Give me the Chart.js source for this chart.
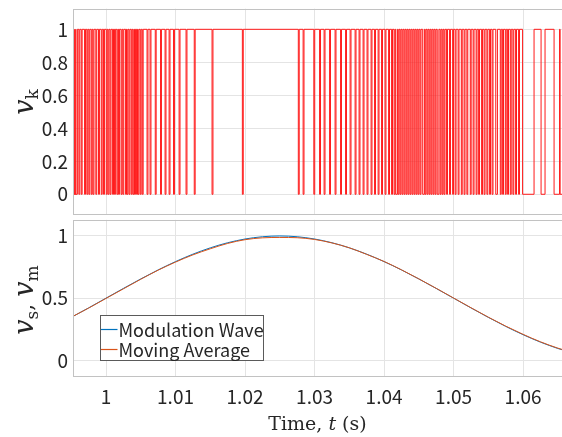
<!DOCTYPE html>
<html><head><meta charset="utf-8">
<script src="https://cdn.jsdelivr.net/npm/chart.js@4.4.0/dist/chart.umd.min.js"></script>
<style>
html,body{margin:0;padding:0;background:#fff;}
#wrap{position:relative;width:562px;height:437px;overflow:hidden;background:#fff;}
canvas{position:absolute;left:0;top:0;}
</style></head><body>
<div id="wrap"><canvas id="c1" width="562" height="437"></canvas><canvas id="c2" width="562" height="437"></canvas></div>
<script>
// ---------- DATA ----------
const xTickValues = [1.00, 1.01, 1.02, 1.03, 1.04, 1.05, 1.06];
const xTickLabels = ['1', '1.01', '1.02', '1.03', '1.04', '1.05', '1.06'];
const vkTickValues = [0, 0.2, 0.4, 0.6, 0.8, 1];
const vkTickLabels = ['0', '0.2', '0.4', '0.6', '0.8', '1'];
const vsTickValues = [0, 0.5, 1];
const vsTickLabels = ['0', '0.5', '1'];
const timeRange = [0.99525, 1.0656];
const vkRange = [-0.125, 1.125];
const vsRange = [-0.13, 1.13];

// switching signal v_k: level 1 with short dips to 0 (centres, s)
const vkDipCenters = [
  0.99532, 0.99554, 0.99576, 0.99616, 0.99650, 0.99698, 0.99731, 0.99760, 0.99794, 0.99820,
  0.99860, 0.99899, 0.99938, 0.99971, 1.00010, 1.00036, 1.00065, 1.00101, 1.00129, 1.00163,
  1.00187, 1.00223, 1.00249, 1.00288, 1.00309, 1.00338, 1.00370, 1.00396, 1.00417, 1.00446,
  1.00468, 1.00499, 1.00528,
  1.00597, 1.00640, 1.00715, 1.00791, 1.00856, 1.00914, 1.00978, 1.01058, 1.01158, 1.01276,
  1.01532, 1.01968,
  1.02773, 1.02842, 1.02996, 1.03079, 1.03144, 1.03223, 1.03302, 1.03381, 1.03453, 1.03518,
  1.03590, 1.03647, 1.03705, 1.03762, 1.03820, 1.03870, 1.03921, 1.03971, 1.04021, 1.04072,
  1.04115, 1.04151, 1.04180, 1.04209, 1.04237, 1.04266, 1.04295, 1.04324, 1.04352, 1.04381,
  1.04410, 1.04439, 1.04468, 1.04496, 1.04525, 1.04568, 1.04597, 1.04626, 1.04655, 1.04683,
  1.04712, 1.04741, 1.04777, 1.04813, 1.04842, 1.04870, 1.04906, 1.04949, 1.04993, 1.05029,
  1.05072, 1.05118, 1.05158, 1.05198, 1.05247, 1.05288, 1.05331, 1.05367, 1.05410, 1.05446,
  1.05486, 1.05525, 1.05561, 1.05619, 1.05679, 1.05712, 1.05751, 1.05784, 1.05823, 1.05860,
  1.05899, 1.05942
];
const vkWideDips = [0.99532, 0.99554, 0.99576, 1.04180, 1.04568, 1.04777, 1.05619];
const dipDuration = 0.00013;
const wideDipDuration = 0.00024;
// final section: longer intervals at level 0 [start, end]
const vkTailOffSpans = [[1.05993, 1.06158], [1.06259, 1.06316], [1.06446, 1.06525], [1.06533, 1.0700]];

// modulation wave and moving average
const tSamples = [
  0.9950, 0.9975, 1.0000, 1.0025, 1.0050, 1.0075, 1.0100, 1.0125, 1.0150, 1.0175,
  1.0200, 1.0225, 1.0250, 1.0275, 1.0300, 1.0325, 1.0350, 1.0375, 1.0400, 1.0425,
  1.0450, 1.0475, 1.0500, 1.0525, 1.0550, 1.0575, 1.0600, 1.0625, 1.0650, 1.0675
];
const modulationWave = [
  0.3455, 0.4218, 0.5000, 0.5782, 0.6545, 0.7270, 0.7939, 0.8536, 0.9045, 0.9455,
  0.9755, 0.9938, 1.0000, 0.9938, 0.9755, 0.9455, 0.9045, 0.8536, 0.7939, 0.7270,
  0.6545, 0.5782, 0.5000, 0.4218, 0.3455, 0.2730, 0.2061, 0.1464, 0.0955, 0.0545
];
const movingAverage = [
  0.347, 0.420, 0.498, 0.575, 0.652, 0.725, 0.790, 0.848, 0.897, 0.940,
  0.970, 0.985, 0.988, 0.986, 0.972, 0.944, 0.905, 0.852, 0.795, 0.728,
  0.655, 0.579, 0.501, 0.423, 0.347, 0.275, 0.209, 0.149, 0.098, 0.057
];
const seriesLabels = ['Modulation Wave', 'Moving Average'];
const seriesColors = ['#0072BD', '#D95319'];

// ---------- BUILD ----------
const offSpans = vkDipCenters.map(c => {
  const d = vkWideDips.includes(c) ? wideDipDuration : dipDuration;
  return [c - d / 2, c + d / 2];
}).concat(vkTailOffSpans);
const vkPoints = [{x: 0.99, y: 1}];
offSpans.forEach(([s, e]) => { vkPoints.push({x: s, y: 0}); vkPoints.push({x: e, y: 1}); });
vkPoints.push({x: 1.07, y: 0});

const GRID = '#e4e4e4';
const BOX = '#c2c2c2';
const TXT = '#262626';
const TICKFONT = {family: '"Noto Sans CJK JP", "Noto Sans", sans-serif', size: 19};

function noPad(s) { s.paddingTop = 0; s.paddingBottom = 0; s.paddingLeft = 0; s.paddingRight = 0; }

const boxPlugin = {
  id: 'box',
  afterDatasetsDraw(chart) {
    const a = chart.chartArea, ctx = chart.ctx;
    ctx.save();
    ctx.strokeStyle = BOX; ctx.lineWidth = 1;
    ctx.strokeRect(Math.round(a.left) + 0.5, Math.round(a.top) + 0.5, Math.round(a.right - a.left) + 2, Math.round(a.bottom - a.top) - 1);
    ctx.restore();
  }
};

function drawRich(ctx, x, y, pieces, rotate) {
  let total = 0;
  pieces.forEach(p => { ctx.font = p.font; p.w = ctx.measureText(p.text).width; total += p.w; });
  ctx.save();
  ctx.translate(x, y);
  if (rotate) ctx.rotate(-Math.PI / 2);
  ctx.fillStyle = TXT; ctx.textBaseline = 'alphabetic'; ctx.textAlign = 'left';
  let cx = -total / 2;
  pieces.forEach(p => { ctx.font = p.font; ctx.fillText(p.text, cx, p.dy || 0); cx += p.w; });
  ctx.restore();
}
const VFONT = 'italic 27px "DejaVu Serif"';
const SFONT = '17px "DejaVu Serif"';
const CFONT = '22px "DejaVu Serif"';

function yScale(range, tv, tl) {
  return {
    type: 'linear', min: range[0], max: range[1],
    afterBuildTicks: s => { s.ticks = tv.map(v => ({value: v})); },
    ticks: {callback: (v, i) => tl[i], font: TICKFONT, color: TXT, padding: 5},
    grid: {color: GRID, drawTicks: false},
    border: {display: false},
    afterFit: s => { s.width = 73; noPad(s); }
  };
}

new Chart(document.getElementById('c1'), {
  type: 'line',
  data: {datasets: [{label: 'v_k', data: vkPoints, borderColor: '#ff1a1a', borderWidth: 1,
    stepped: 'before', pointRadius: 0, fill: false}]},
  options: {
    responsive: false, animation: false, events: [],
    layout: {padding: {left: 0, right: 0, top: 8.7, bottom: 437 - 214.9}},
    plugins: {legend: {display: false}, tooltip: {enabled: false}},
    scales: {
      x: {type: 'linear', min: timeRange[0], max: timeRange[1],
        afterBuildTicks: s => { s.ticks = xTickValues.map(v => ({value: v})); },
        ticks: {display: false}, grid: {color: GRID, drawTicks: false}, border: {display: false},
        afterFit: s => { s.height = 0; noPad(s); }},
      y: yScale(vkRange, vkTickValues, vkTickLabels)
    }
  },
  plugins: [boxPlugin, {
    id: 'ytitle1',
    afterDraw(chart) {
      drawRich(chart.ctx, 33, 102, [
        {text: 'v', font: VFONT},
        {text: 'k', font: SFONT, dy: 5}
      ], true);
    }
  }]
});

new Chart(document.getElementById('c2'), {
  type: 'line',
  data: {datasets: seriesLabels.map((lab, i) => ({
    label: lab,
    data: tSamples.map((t, k) => ({x: t, y: (i === 0 ? modulationWave : movingAverage)[k]})),
    borderColor: seriesColors[i], borderWidth: 1, pointRadius: 0, fill: false,
    cubicInterpolationMode: 'monotone', order: 1 - i
  }))},
  options: {
    responsive: false, animation: false, events: [],
    layout: {padding: {left: 0, right: 0, top: 219.8, bottom: 0}},
    plugins: {legend: {display: false}, tooltip: {enabled: false}},
    scales: {
      x: {type: 'linear', min: timeRange[0], max: timeRange[1],
        afterBuildTicks: s => { s.ticks = xTickValues.map(v => ({value: v})); },
        ticks: {callback: (v, i) => xTickLabels[i], font: TICKFONT, color: TXT, padding: 9, maxRotation: 0},
        grid: {color: GRID, drawTicks: false}, border: {display: false},
        afterFit: s => { s.height = 437 - 376.5; noPad(s); }},
      y: yScale(vsRange, vsTickValues, vsTickLabels)
    }
  },
  plugins: [boxPlugin, {
    id: 'titles2',
    afterDraw(chart) {
      const ctx = chart.ctx;
      drawRich(ctx, 33, 300, [
        {text: 'v', font: VFONT},
        {text: 's', font: SFONT, dy: 5},
        {text: ', ', font: CFONT},
        {text: 'v', font: VFONT},
        {text: 'm', font: SFONT, dy: 5}
      ], true);
      drawRich(ctx, 317.5, 430, [
        {text: 'Time, ', font: '19px "DejaVu Serif"'},
        {text: 't', font: 'italic 19px "DejaVu Serif"'},
        {text: ' (s)', font: '19px "DejaVu Serif"'}
      ], false);
      // legend
      const L = 100.5, T = 315.5, W = 163, H = 45;
      ctx.save();
      ctx.fillStyle = '#fff'; ctx.fillRect(L, T, W, H);
      ctx.strokeStyle = '#5a5a5a'; ctx.lineWidth = 1; ctx.strokeRect(L, T, W, H);
      ctx.font = '18px "Noto Sans CJK JP", "Noto Sans", sans-serif';
      ctx.textBaseline = 'middle'; ctx.textAlign = 'left';
      chart.data.datasets.forEach((ds, i) => {
        const yy = T + 14 + i * 20;
        ctx.strokeStyle = ds.borderColor; ctx.lineWidth = 1.2;
        ctx.beginPath(); ctx.moveTo(L + 0.5, yy); ctx.lineTo(L + 17, yy); ctx.stroke();
        ctx.fillStyle = TXT; ctx.fillText(ds.label, L + 18, yy + 1);
      });
      ctx.restore();
    }
  }]
});
</script>
</body></html>
